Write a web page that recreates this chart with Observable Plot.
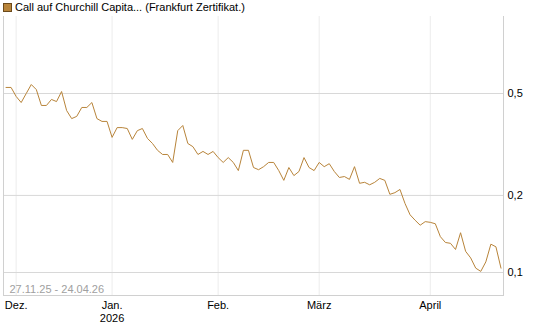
<!DOCTYPE html>
<html><head><meta charset="utf-8">
<script src="https://cdn.jsdelivr.net/npm/d3@7"></script>
<script src="https://cdn.jsdelivr.net/npm/@observablehq/plot@0.6"></script>
<style>
body{margin:0;background:#fff;font-family:"Liberation Sans",Arial,sans-serif;}
#legend{height:16px;position:relative;font-size:11px;color:#000;}
#legend .sw{position:absolute;left:3px;top:3px;width:7px;height:7px;background:#b8843a;border:1px solid #6b4a1c;}
#legend .tx{position:absolute;left:15px;top:1px;white-space:nowrap;}
</style></head>
<body>
<div id="legend"><span class="sw"></span><span class="tx">Call auf Churchill Capita... (Frankfurt Zertifikat.)</span></div>
<div id="chart"></div>
<script>
const seriesName = "Call auf Churchill Capita... (Frankfurt Zertifikat.)";
const rangeLabel = "27.11.25 - 24.04.26";
const values = [0.528,0.528,0.487,0.461,0.500,0.542,0.518,0.449,0.449,0.474,
0.465,0.509,0.429,0.399,0.407,0.441,0.441,0.461,0.399,0.389,
0.389,0.337,0.368,0.368,0.365,0.331,0.358,0.365,0.334,0.319,
0.300,0.289,0.289,0.269,0.358,0.375,0.319,0.310,0.289,0.297,
0.289,0.297,0.281,0.269,0.281,0.269,0.250,0.300,0.300,0.257,
0.252,0.259,0.269,0.269,0.250,0.229,0.257,0.239,0.248,0.281,
0.257,0.250,0.269,0.259,0.266,0.248,0.235,0.237,0.231,0.259,
0.223,0.225,0.220,0.225,0.233,0.229,0.202,0.205,0.211,0.186,
0.168,0.160,0.153,0.158,0.157,0.155,0.138,0.131,0.130,0.123,
0.143,0.121,0.114,0.104,0.101,0.110,0.129,0.126,0.104];
const monthTickIndex = [2, 21, 42, 62, 84];
const monthTickLabels = ["Dez.", "Jan.\n2026", "Feb.", "März", "April"];
const yTicks = [0.1, 0.2, 0.5];

const data = values.map((v, i) => ({i, v}));
const labelOf = new Map(monthTickIndex.map((t, k) => [t, monthTickLabels[k]]));

const plot = Plot.plot({
  width: 545,
  height: 311,
  marginTop: 0,
  marginBottom: 32,
  marginLeft: 3,
  marginRight: 42,
  style: {fontFamily: '"Liberation Sans", Arial, sans-serif', fontSize: "11px", color: "#000", background: "#fff"},
  x: {type: "linear", domain: [-0.5, 98.5], label: null},
  y: {type: "log", domain: [0.08132, 0.9992], label: null},
  marks: [
    Plot.ruleX(monthTickIndex, {stroke: "#ececec", strokeWidth: 1}),
    Plot.ruleY(yTicks, {stroke: "#d8d8d8", strokeWidth: 1}),
    Plot.frame({anchor: "left", stroke: "#d0d0d0"}),
    Plot.frame({anchor: "right", stroke: "#d0d0d0"}),
    Plot.frame({anchor: "bottom", stroke: "#d0d0d0"}),
    Plot.line(data, {x: "i", y: "v", stroke: "#b8843a", strokeWidth: 1}),
    Plot.text([rangeLabel], {frameAnchor: "bottom-left", dx: 6, dy: -3, textAnchor: "start", lineAnchor: "bottom", fill: "#a0a0a0", fontSize: 11}),
    Plot.axisY(yTicks, {anchor: "right", label: null, tickSize: 0, tickPadding: 4, tickFormat: d => String(d).replace(".", ","), fontSize: 11, fill: "#000"}),
    Plot.axisX(monthTickIndex, {anchor: "bottom", label: null, tickSize: 0, tickPadding: 4, tickFormat: d => labelOf.get(d), lineHeight: 1.2, fontSize: 11, fill: "#000"})
  ]
});
document.getElementById("chart").appendChild(plot);
</script>
</body></html>
